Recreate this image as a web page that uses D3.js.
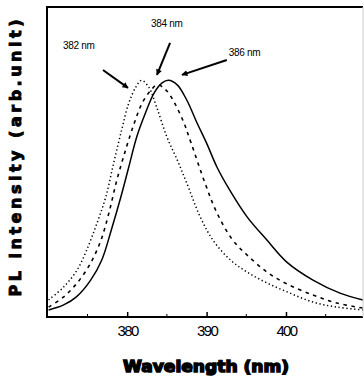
<!DOCTYPE html>
<html>
<head>
<meta charset="utf-8">
<script src="https://cdn.jsdelivr.net/npm/d3@7"></script>
<style>
  html, body { margin: 0; padding: 0; background: #fff; }
  svg { display: block; }
</style>
</head>
<body>
<script>
var w = 364;
var h = 382;

// wavelength (nm) / PL intensity (arb.)
var wl382 = [370.1, 372.0, 373.7, 374.9, 376.2, 377.3, 378.3, 379.3, 380.2, 381.1, 381.8, 382.7, 383.7, 385.0, 386.3, 387.5, 389.2, 390.8, 393.0, 395.1, 397.6, 400.5, 403.4, 406.4, 409.7];
var pl382 = [0.072, 0.127, 0.199, 0.283, 0.397, 0.507, 0.651, 0.790, 0.904, 0.972, 1.000, 0.972, 0.888, 0.761, 0.664, 0.566, 0.423, 0.325, 0.241, 0.190, 0.144, 0.101, 0.063, 0.042, 0.030];

var wl384 = [370.1, 372.0, 373.7, 375.4, 376.7, 377.7, 378.7, 379.8, 380.9, 381.9, 383.0, 383.8, 385.0, 386.9, 388.0, 389.8, 391.3, 393.3, 395.1, 397.6, 400.1, 403.4, 406.4, 409.7];
var pl384 = [0.042, 0.085, 0.144, 0.228, 0.325, 0.440, 0.579, 0.706, 0.820, 0.905, 0.959, 0.981, 0.955, 0.840, 0.740, 0.566, 0.440, 0.325, 0.262, 0.190, 0.140, 0.093, 0.059, 0.038];

var wl386 = [370.1, 372.0, 373.6, 375.4, 376.8, 378.0, 379.2, 380.2, 381.2, 382.3, 383.4, 384.4, 385.2, 386.3, 387.5, 388.8, 390.0, 391.3, 392.9, 395.1, 397.6, 400.1, 403.4, 406.8, 409.7];
var pl386 = [0.030, 0.051, 0.085, 0.156, 0.241, 0.368, 0.507, 0.634, 0.761, 0.862, 0.947, 0.989, 1.000, 0.981, 0.917, 0.820, 0.735, 0.634, 0.537, 0.423, 0.325, 0.232, 0.156, 0.101, 0.072];

var majorTicks = [380, 390, 400];
var minorTicks = [375, 385, 395, 405];

var peakLabels = ['382 nm', '384 nm', '386 nm'];
// label anchor, arrow tail, arrow tip, in data units
var labelAt = [[371.9, 1.133], [383.0, 1.226], [392.8, 1.103]];
var arrowFrom = [[376.95, 1.044], [385.4, 1.158], [392.55, 1.086]];
var arrowTo = [[380.1, 0.968], [383.75, 1.023], [386.9, 1.023]];

var pLeft = 47, pRight = 363, pTop = 7, pBottom = 317;

var x = d3.scaleLinear().domain([369.9, 409.7]).range([pLeft, pRight]);
var y = d3.scaleLinear().domain([0, 1.31]).range([pBottom, pTop]);

var svg = d3.select('body').append('svg')
  .attr('width', w)
  .attr('height', h);

svg.append('defs').append('marker')
  .attr('id', 'head')
  .attr('viewBox', '0 0 10 10')
  .attr('refX', 9)
  .attr('refY', 5)
  .attr('markerWidth', 7)
  .attr('markerHeight', 6)
  .attr('markerUnits', 'userSpaceOnUse')
  .attr('orient', 'auto')
  .append('path')
    .attr('d', 'M0,0 L10,5 L0,10 z')
    .attr('fill', '#000');

var line = d3.line()
  .x((d) => x(d[0]))
  .y((d) => y(d[1]))
  .curve(d3.curveCatmullRom.alpha(0.5));

var series = [
  { wl: wl382, pl: pl382, dash: '1.3,2.6', width: 1.5 },
  { wl: wl384, pl: pl384, dash: '3.5,4.5', width: 1.6 },
  { wl: wl386, pl: pl386, dash: null, width: 1.5 }
];

svg.selectAll('path.curve')
  .data(series)
  .enter().append('path')
    .attr('class', 'curve')
    .attr('d', (s) => line(s.wl.map((v, i) => [v, s.pl[i]])))
    .attr('fill', 'none')
    .attr('stroke', '#000')
    .attr('stroke-width', (s) => s.width)
    .attr('stroke-dasharray', (s) => s.dash);

// frame
svg.append('path')
  .attr('d', 'M' + pRight + ',' + pTop + 'H' + pLeft + 'V' + pBottom + 'H' + pRight)
  .attr('fill', 'none')
  .attr('stroke', '#000')
  .attr('stroke-width', 2);
svg.append('line')
  .attr('x1', pRight).attr('x2', pRight)
  .attr('y1', pTop).attr('y2', pBottom)
  .attr('stroke', '#ccc')
  .attr('stroke-width', 1);

// x axis
var axis = svg.append('g')
  .attr('transform', 'translate(0,' + pBottom + ')')
  .call(d3.axisBottom(x).tickValues(majorTicks).tickSize(-5).tickPadding(8).tickFormat(d3.format('d')));
axis.select('.domain').remove();
axis.selectAll('.tick line').attr('stroke-width', 1.5);
axis.selectAll('.tick text')
  .attr('font-family', 'Liberation Sans, Arial, sans-serif')
  .attr('font-size', 15)
  .attr('letter-spacing', -1.6)
  .attr('fill', '#000');

svg.selectAll('line.minor')
  .data(minorTicks)
  .enter().append('line')
    .attr('class', 'minor')
    .attr('x1', (d) => x(d)).attr('x2', (d) => x(d))
    .attr('y1', pBottom).attr('y2', pBottom - 3)
    .attr('stroke', '#000')
    .attr('stroke-width', 1);

// axis titles
svg.append('text')
  .attr('x', (pLeft + pRight) / 2 + 1)
  .attr('y', 372)
  .attr('text-anchor', 'middle')
  .attr('font-family', 'DejaVu Sans, sans-serif')
  .attr('font-weight', 'bold')
  .attr('font-size', 15)
  .attr('stroke', '#000')
  .attr('stroke-width', 1.4)
  .attr('textLength', 166)
  .attr('lengthAdjust', 'spacingAndGlyphs')
  .text('Wavelength (nm)');

svg.append('text')
  .attr('transform', 'translate(21,158) rotate(-90)')
  .attr('text-anchor', 'middle')
  .attr('font-family', 'DejaVu Sans, sans-serif')
  .attr('font-weight', 'bold')
  .attr('font-size', 16)
  .attr('stroke', '#000')
  .attr('stroke-width', 0.9)
  .attr('textLength', 277)
  .attr('lengthAdjust', 'spacing')
  .text('PL  intensity (arb.unit)');

// peak annotations
var notes = svg.selectAll('g.note')
  .data(peakLabels)
  .enter().append('g')
    .attr('class', 'note');

notes.append('text')
  .attr('x', (d, i) => x(labelAt[i][0]))
  .attr('y', (d, i) => y(labelAt[i][1]))
  .attr('font-family', 'Liberation Sans, Arial, sans-serif')
  .attr('font-size', 10)
  .attr('letter-spacing', -0.3)
  .text((d) => d);

notes.append('line')
  .attr('x1', (d, i) => x(arrowFrom[i][0]))
  .attr('y1', (d, i) => y(arrowFrom[i][1]))
  .attr('x2', (d, i) => x(arrowTo[i][0]))
  .attr('y2', (d, i) => y(arrowTo[i][1]))
  .attr('stroke', '#000')
  .attr('stroke-width', 2)
  .attr('marker-end', 'url(#head)');
</script>
</body>
</html>
